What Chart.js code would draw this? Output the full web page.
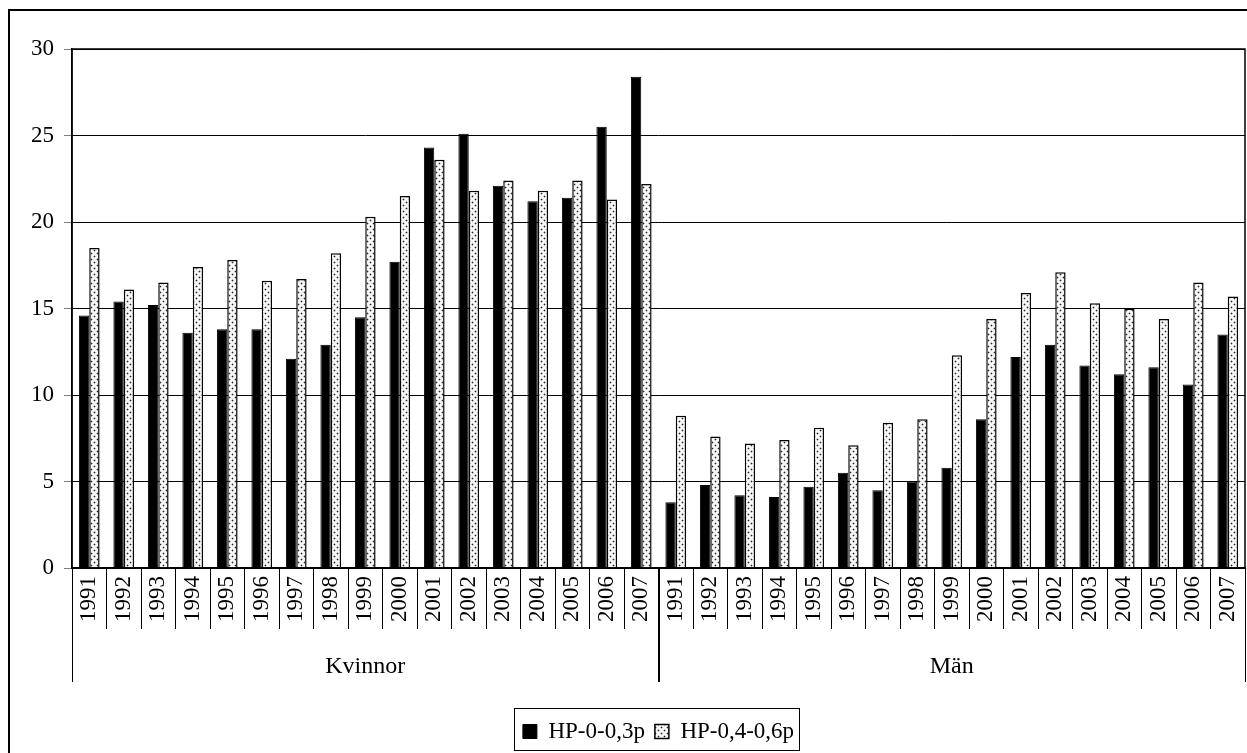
<!DOCTYPE html>
<html>
<head>
<meta charset="utf-8">
<script src="https://cdn.jsdelivr.net/npm/chart.js@4.4.1/dist/chart.umd.min.js"></script>
<style>
  html, body { margin: 0; padding: 0; background: #fff; overflow: hidden; }
  #frame { position: absolute; left: 8px; top: 9px; width: 1300px; height: 800px; border: 2px solid #000; }
  #myChart { position: absolute; left: 0; top: 0; }
</style>
</head>
<body>
<div id="frame"></div>
<canvas id="myChart" width="1247" height="753"></canvas>
<script>
const years = ['1991', '1992', '1993', '1994', '1995', '1996', '1997', '1998', '1999',
  '2000', '2001', '2002', '2003', '2004', '2005', '2006', '2007']
const groups = ['Kvinnor', 'Män']
const seriesNames = ['HP-0-0,3p', 'HP-0,4-0,6p']

// values, 1991..2007
const kvinnorLow = [14.6, 15.4, 15.2, 13.6, 13.8, 13.8, 12.1, 12.9, 14.5, 17.7, 24.3, 25.1, 22.1, 21.2, 21.4, 25.5, 28.4]
const kvinnorHigh = [18.5, 16.1, 16.5, 17.4, 17.8, 16.6, 16.7, 18.2, 20.3, 21.5, 23.6, 21.8, 22.4, 21.8, 22.4, 21.3, 22.2]
const manLow = [3.8, 4.8, 4.2, 4.1, 4.7, 5.5, 4.5, 5.0, 5.8, 8.6, 12.2, 12.9, 11.7, 11.2, 11.6, 10.6, 13.5]
const manHigh = [8.8, 7.6, 7.2, 7.4, 8.1, 7.1, 8.4, 8.6, 12.3, 14.4, 15.9, 17.1, 15.3, 15.0, 14.4, 16.5, 15.7]

const yTicks = [0, 5, 10, 15, 20, 25, 30]

const fontFamily = "'Liberation Serif', 'Times New Roman', serif"

// dotted fill like the old excel pattern
const makeDots = () => {
  const tile = document.createElement('canvas')
  tile.width = 6
  tile.height = 6
  const c = tile.getContext('2d')
  c.fillStyle = '#f6f6f6'
  c.fillRect(0, 0, 6, 6)
  const dot = (x, y) => {
    c.fillStyle = '#b4b4b4'
    c.fillRect(x - 1, y, 3, 1)
    c.fillRect(x, y - 1, 1, 3)
    c.fillStyle = '#2a2a2a'
    c.fillRect(x, y, 1, 1)
  }
  dot(1, 1)
  dot(4, 4)
  return document.getElementById('myChart').getContext('2d').createPattern(tile, 'repeat')
}
const dots = makeDots()

const labels = [...years, ...years]

const groupAxis = {
  id: 'groupAxis',
  afterDraw: (chart) => {
    const { ctx, chartArea } = chart
    const x = chart.scales.x
    const step = x.getPixelForValue(1) - x.getPixelForValue(0)

    ctx.save()
    // plot frame
    ctx.strokeStyle = '#000'
    ctx.lineWidth = 1.5
    ctx.strokeRect(chartArea.left, chartArea.top, chartArea.right - chartArea.left, chartArea.bottom - chartArea.top)

    ctx.lineWidth = 1
    ctx.fillStyle = '#000'
    ctx.font = `24px ${fontFamily}`
    ctx.textAlign = 'center'
    ctx.textBaseline = 'middle'
    groups.forEach((name, g) => {
      const first = g * years.length
      const last = first + years.length - 1
      const left = x.getPixelForValue(first) - step / 2
      const right = x.getPixelForValue(last) + step / 2
      ;[left, right].forEach((px) => {
        ctx.beginPath()
        ctx.moveTo(Math.round(px) + 0.5, chartArea.bottom)
        ctx.lineTo(Math.round(px) + 0.5, 682)
        ctx.stroke()
      })
      ctx.fillText(name, (left + right) / 2, 667)
    })

    // box round the legend
    const boxes = chart.legend.legendHitBoxes
    if (boxes && boxes.length) {
      const minX = Math.min(...boxes.map((b) => b.left))
      const maxX = Math.max(...boxes.map((b) => b.left + b.width))
      ctx.strokeStyle = '#000'
      ctx.lineWidth = 1
      ctx.strokeRect(Math.round(minX) - 8.5, 708.5, Math.round(maxX - minX) + 14, 42)
    }
    ctx.restore()
  },
}

const config = {
  type: 'bar',
  data: {
    labels: labels,
    datasets: [
      {
        label: seriesNames[0],
        data: [...kvinnorLow, ...manLow],
        backgroundColor: '#000',
        borderColor: '#000',
        borderWidth: 1,
      },
      {
        label: seriesNames[1],
        data: [...kvinnorHigh, ...manHigh],
        backgroundColor: dots,
        borderColor: '#000',
        borderWidth: 1.5,
      },
    ],
  },
  options: {
    responsive: false,
    animation: false,
    devicePixelRatio: 1,
    categoryPercentage: 0.6,
    barPercentage: 1,
    layout: {
      padding: { top: 49, right: 2, left: 0, bottom: 0 },
    },
    scales: {
      x: {
        grid: {
          offset: true,
          drawOnChartArea: false,
          tickLength: 61,
          color: '#000',
        },
        border: { color: '#000', width: 1.5 },
        ticks: {
          autoSkip: false,
          maxRotation: 90,
          minRotation: 90,
          padding: -53,
          color: '#000',
          font: { family: fontFamily, size: 23 },
        },
        afterFit: (scale) => {
          scale.height = 142
        },
      },
      y: {
        min: 0,
        max: 30,
        afterBuildTicks: (scale) => {
          scale.ticks = yTicks.map((v) => ({ value: v }))
        },
        grid: {
          color: '#000',
          lineWidth: 1,
          tickLength: 8,
          tickColor: '#808080',
        },
        border: { color: '#000', width: 1.5 },
        ticks: {
          padding: 10,
          color: '#000',
          font: { family: fontFamily, size: 23 },
        },
        afterFit: (scale) => {
          scale.width = 72
        },
      },
    },
    plugins: {
      legend: {
        position: 'bottom',
        fullSize: false,
        labels: {
          color: '#000',
          boxWidth: 14,
          boxHeight: 14,
          padding: 10,
          font: { family: fontFamily, size: 23 },
        },
      },
      tooltip: { enabled: false },
    },
  },
  plugins: [groupAxis],
}

const myChart = new Chart(document.getElementById('myChart'), config)
</script>
</body>
</html>
